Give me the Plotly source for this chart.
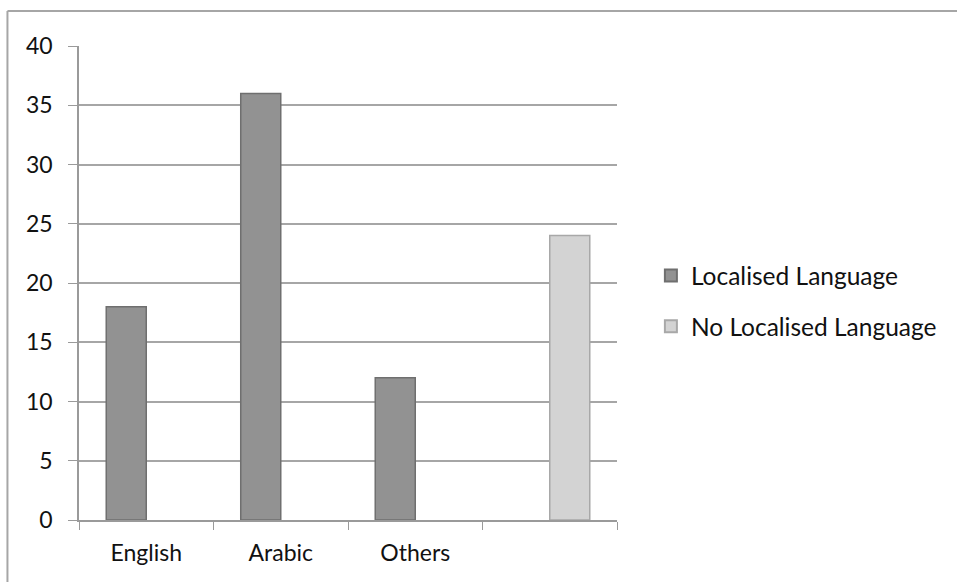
import plotly.graph_objects as go

categories = ["English", "Arabic", "Others", " "]
localised = [18, 36, 12, None]
no_localised = [None, None, None, 24]
y_ticks = [0, 5, 10, 15, 20, 25, 30, 35, 40]

FONT = "Lato, 'Open Sans', sans-serif"

fig = go.Figure()
fig.add_trace(go.Bar(
    name="Localised Language", legendgroup="a",
    x=categories, y=localised,
    marker=dict(color="#929292", line=dict(color="#6f6f6f", width=1.5)),
))
fig.add_trace(go.Bar(
    name="No Localised Language", legendgroup="b",
    x=categories, y=no_localised,
    marker=dict(color="#d3d3d3", line=dict(color="#a8a8a8", width=1.5)),
))

fig.update_layout(
    width=957, height=582,
    margin=dict(l=79, r=340, t=46, b=62),
    paper_bgcolor="white", plot_bgcolor="white",
    barmode="group", bargap=0.405, bargroupgap=0,
    font=dict(family=FONT, size=23, color="#111111"),
    legend=dict(
        x=1.063, y=0.462, xanchor="left", yanchor="middle",
        font=dict(size=24.5), itemsizing="constant",
        traceorder="grouped", tracegroupgap=16, itemwidth=30,
    ),
    shapes=[
        dict(type="line", xref="paper", yref="paper",
             x0=-0.133, x1=1.7, y0=1.074, y1=1.074,
             line=dict(color="#a6a6a6", width=2)),
        dict(type="line", xref="paper", yref="paper",
             x0=-0.133, x1=-0.133, y0=1.074, y1=-0.15,
             line=dict(color="#a6a6a6", width=2)),
    ],
)

fig.update_xaxes(
    type="category", tickson="boundaries", ticks="outside", ticklen=8,
    tickcolor="#9a9a9a", showline=True, linecolor="#9a9a9a", linewidth=1.5,
    showgrid=False, tickfont=dict(size=23), ticklabelstandoff=12,
)
fig.update_yaxes(
    range=[0, 40], tickvals=y_ticks, ticks="outside", ticklen=9,
    tickcolor="#9a9a9a", showline=True, linecolor="#9a9a9a", linewidth=1.5,
    showgrid=True, gridcolor="#a6a6a6", gridwidth=1.5, zeroline=False,
    tickfont=dict(size=23), ticklabelstandoff=11,
)

fig.write_html("out.html")
